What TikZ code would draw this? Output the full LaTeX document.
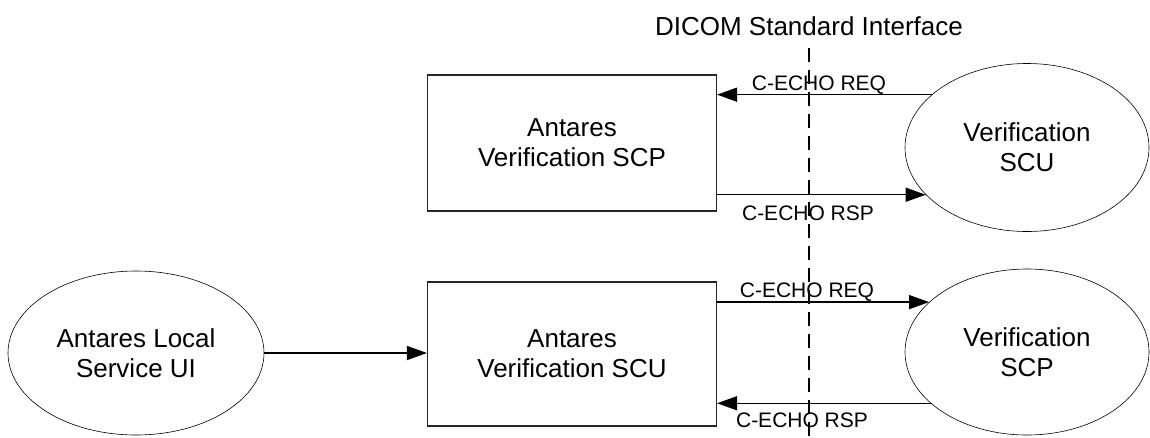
\documentclass[tikz,border=0pt]{standalone}
\usepackage{fontspec}
\setmainfont{Liberation Sans}
\usetikzlibrary{shapes.geometric,arrows.meta}
\begin{document}
\begin{tikzpicture}[x=1pt,y=-1pt,
  boxnode/.style={draw=black!85,line width=1.1pt,minimum width=289pt,inner sep=0pt,align=center,font=\fontsize{26}{30}\selectfont},
  ellnode/.style={draw=black,line width=0.6pt,ellipse,inner sep=0pt,align=center,font=\fontsize{26}{30}\selectfont},
  msg/.style={line width=1.4pt,-{Triangle[length=20pt,width=14pt]}},
  lbl/.style={anchor=base,inner sep=0pt,font=\fontsize{21}{24}\selectfont},
  divider/.style={line width=1.6pt,dash pattern=on 14pt off 8pt}]
\useasboundingbox (0,0) rectangle (1150,437);
% nodes
\node[boxnode,minimum height=136pt] (scpbox) at (572,143) {Antares\\Verification SCP};
\node[boxnode,minimum height=144pt] (scubox) at (572,354) {Antares\\Verification SCU};
\node[ellnode,minimum width=244pt,minimum height=168pt] (scu) at (1027,147.5) {Verification\\SCU};
\node[ellnode,minimum width=244pt,minimum height=166pt] (scp) at (1027,352) {Verification\\SCP};
\node[ellnode,minimum width=256pt,minimum height=164pt] (ui) at (136,353) {Antares Local\\Service UI};
% title and dashed interface line
\node[anchor=base,inner sep=0pt,font=\fontsize{26}{30}\selectfont] (title) at (809,35) {DICOM Standard Interface};
\coordinate (dtop) at (809,48);
\coordinate (dbot) at (809,437);
\draw[divider] (dtop) -- (dbot);
% messages
\draw[msg] (scu.151) -- (scpbox.east |- scu.151);
\draw[msg] (scpbox.east |- scu.205) -- (scu.205);
\draw[msg] (scubox.east |- scp.153.6) -- (scp.153.6);
\draw[msg] (scp.208) -- (scubox.east |- scp.208);
\draw[msg] (ui.east) -- (scubox.west |- ui.east);
% labels
\node[lbl] (l1) at (819,90) {C-ECHO REQ};
\node[lbl] (l2) at (808,220) {C-ECHO RSP};
\node[lbl] (l3) at (807,297) {C-ECHO REQ};
\node[lbl] (l4) at (802,427) {C-ECHO RSP};
\end{tikzpicture}
\end{document}
